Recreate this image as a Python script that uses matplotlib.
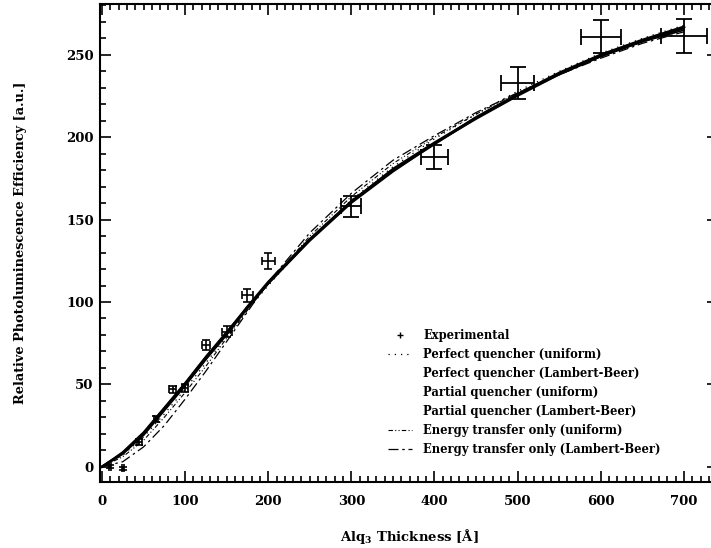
import matplotlib
matplotlib.use("Agg")
import matplotlib.pyplot as plt
from matplotlib.ticker import MultipleLocator
from matplotlib.lines import Line2D

# experimental points
thickness = [10, 25, 45, 65, 85, 100, 125, 150, 175, 200, 300, 400, 500, 600, 700]
efficiency = [0, -1, 15, 29, 47, 48, 74, 82, 104, 125, 158, 188, 233, 261, 261.5]
thickness_err = [1, 1, 3, 3, 4, 4, 5, 6, 7, 8, 12, 16, 20, 24, 28]
efficiency_err = [1, 1, 2, 2, 2, 2.5, 3, 3.5, 4, 5, 6.5, 7, 9.5, 10, 10.5]

# model curves
model_thickness = [0, 25, 50, 75, 100, 125, 150, 175, 200, 250, 300, 350, 400, 450, 500, 550, 600, 650, 700]
perfect_uniform = [0, 7, 18, 32, 47, 63, 79, 95, 110, 138, 162, 182, 199, 214, 228, 240, 251, 260, 268]
perfect_lb = [0, 8, 20, 35, 50, 66, 81, 97, 112, 138, 161, 180, 196, 212, 226, 239, 250, 259, 267]
partial_uniform = [0, 9, 21, 36, 51, 67, 82, 97, 111, 137, 160, 179, 196, 211, 225, 238, 249, 258, 266]
partial_lb = [0, 8, 19, 34, 49, 65, 80, 96, 111, 138, 161, 181, 197, 212, 226, 238, 249, 258, 265]
transfer_uniform = [0, 6, 16, 30, 45, 61, 78, 95, 111, 140, 164, 184, 200, 214, 227, 239, 249, 258, 266]
transfer_lb = [0, 3, 12, 25, 41, 58, 76, 94, 112, 142, 166, 186, 201, 215, 227, 238, 248, 257, 264]

labels = ["Experimental",
          "Perfect quencher (uniform)",
          "Perfect quencher (Lambert-Beer)",
          "Partial quencher (uniform)",
          "Partial quencher (Lambert-Beer)",
          "Energy transfer only (uniform)",
          "Energy transfer only (Lambert-Beer)"]

plt.rcParams['font.family'] = 'DejaVu Serif'
plt.rcParams['font.weight'] = 'bold'
plt.rcParams['axes.labelweight'] = 'bold'
plt.rcParams['mathtext.fontset'] = 'dejavuserif'


def main():
	fig = plt.figure(figsize=(7.11, 5.48), dpi=100)
	ax = fig.add_axes([0.1406, 0.1204, 0.8692, 0.8714])

	# thin films have small bars with short caps, thick films wide ones
	n = 10
	ax.errorbar(thickness[:n], efficiency[:n], xerr=thickness_err[:n], yerr=efficiency_err[:n],
		fmt='none', ecolor='black', elinewidth=1.2, capsize=3, capthick=1.2)
	ax.errorbar(thickness[n:], efficiency[n:], xerr=thickness_err[n:], yerr=efficiency_err[n:],
		fmt='none', ecolor='black', elinewidth=1.3, capsize=5.5, capthick=1.3)

	ax.plot(model_thickness, perfect_uniform, color='black', lw=0.9, ls=(0, (1, 4)))
	ax.plot(model_thickness, perfect_lb, color='black', lw=2.0, ls='-')
	ax.plot(model_thickness, partial_uniform, color='black', lw=1.2, ls='-')
	ax.plot(model_thickness, partial_lb, color='black', lw=1.2, ls='-')
	ax.plot(model_thickness, transfer_uniform, color='black', lw=0.8, ls=(0, (4, 2, 1, 2, 1, 2)))
	ax.plot(model_thickness, transfer_lb, color='black', lw=0.9, ls=(0, (8, 3, 2, 3)))

	# legend handles as they appear in the figure
	handles = [Line2D([], [], color='black', lw=0.8, marker='+', markersize=5, ls='none'),
		Line2D([], [], color='black', lw=0.9, ls=(0, (1, 4))),
		Line2D([], [], ls='none'),
		Line2D([], [], ls='none'),
		Line2D([], [], ls='none'),
		Line2D([], [], color='black', lw=0.8, ls=(0, (4, 2, 1, 2, 1, 2))),
		Line2D([], [], color='black', lw=0.9, ls=(0, (8, 3, 2, 3)))]
	ax.legend(handles, labels, loc='upper left', bbox_to_anchor=(0.466, 0.32),
		frameon=False, fontsize=8.3, borderpad=0, borderaxespad=0,
		handlelength=2.1, handletextpad=0.95, labelspacing=0.52)

	ax.set_xlim(-2.4, 741)
	ax.set_ylim(-9.3, 280.6)
	ax.xaxis.set_major_locator(MultipleLocator(100))
	ax.xaxis.set_minor_locator(MultipleLocator(10))
	ax.yaxis.set_major_locator(MultipleLocator(50))
	ax.yaxis.set_minor_locator(MultipleLocator(10))
	ax.tick_params(which='both', direction='in', top=True, right=True, width=1.2)
	ax.tick_params(which='major', length=8, labelsize=9.5)
	ax.tick_params(axis='x', which='major', pad=9)
	ax.tick_params(axis='y', which='major', pad=4.5)
	ax.tick_params(which='minor', length=4)
	for s in ax.spines.values():
		s.set_linewidth(1.5)

	ax.set_xlabel(r"Alq$_\mathbf{3}$ Thickness [Å]", fontsize=9.5)
	ax.set_ylabel("Relative Photoluminescence Efficiency [a.u.]", fontsize=9.3)
	ax.xaxis.set_label_coords(0.5, -0.094)
	ax.yaxis.set_label_coords(-0.118, 0.5)

	fig.savefig("out.png", dpi=100)


if __name__ == "__main__":
	main()
